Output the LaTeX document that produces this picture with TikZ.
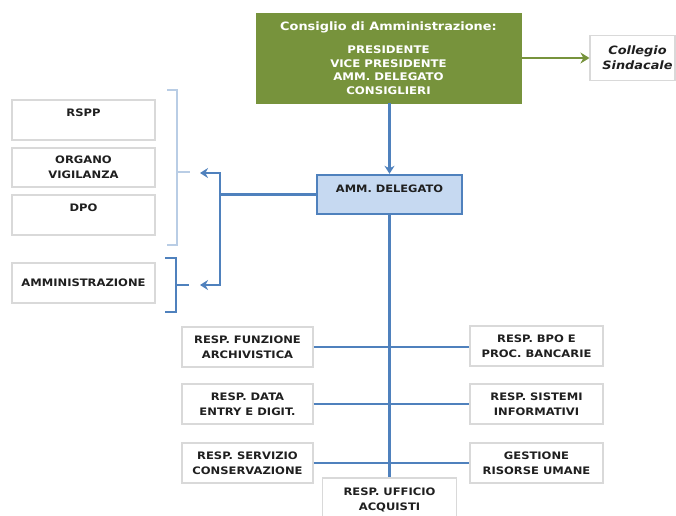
\documentclass[tikz,border=0pt]{standalone}
\usepackage{fontspec}
\setmainfont{DejaVu Sans}[FakeStretch=1.12]
\usetikzlibrary{arrows.meta}
\definecolor{cdagreen}{HTML}{77933C}
\definecolor{orgblue}{HTML}{4F81BD}
\definecolor{paleblue}{HTML}{C6D9F1}
\definecolor{bracketblue}{HTML}{B9CDE5}
\definecolor{boxgray}{HTML}{D9D9D9}
\definecolor{textdark}{HTML}{1F1F1F}
\begin{document}
\begin{tikzpicture}[x=1pt,y=-1pt,
  box/.style={draw=boxgray, line width=1.1pt, fill=white, align=center,
    text=textdark, inner sep=2pt,
    font=\bfseries\fontsize{10.3}{15}\selectfont},
  sidebox/.style={box, minimum width=143pt},
  unitbox/.style={box, minimum width=131pt, minimum height=40pt},
  boardbox/.style={draw=cdagreen, fill=cdagreen, text=white, align=center,
    minimum width=265pt, minimum height=90pt, inner sep=2pt,
    font=\bfseries\fontsize{10.5}{13.5}\selectfont},
  ceobox/.style={draw=orgblue, line width=2.4pt, fill=paleblue, align=center,
    text=textdark, minimum width=145pt, minimum height=39pt,
    font=\bfseries\fontsize{10.2}{15}\selectfont},
  blueline/.style={draw=orgblue, line width=2.4pt},
  bluetip/.style={-{Stealth[length=8pt,width=10pt]}},
  greenarrow/.style={draw=cdagreen, line width=2.4pt, -{Stealth[length=9pt,width=11pt]}},
  bracket/.style={line width=2pt}
]
\useasboundingbox (0,0) rectangle (676,515);
\clip (0,0) rectangle (676,515);

% board and statutory auditors
\node[boardbox] (cda) at (388.5,58)
  {{\fontsize{11.5}{13.5}\selectfont Consiglio di Amministrazione:}\\[10pt]
   PRESIDENTE\\VICE PRESIDENTE\\AMM. DELEGATO\\CONSIGLIERI};
\node[box, minimum width=85pt, minimum height=45pt,
      font=\bfseries\itshape\fontsize{11.5}{15}\selectfont] (coll) at (632.5,58)
  {\hspace*{10pt}Collegio\\\hspace*{10pt}Sindacale};

% managing director
\node[ceobox] (amm) at (389.5,194.5) {AMM. DELEGATO\\[-3pt]};

% staff functions
\node[sidebox, minimum height=40pt] (rspp) at (83.5,120) {RSPP\\\phantom{X}};
\node[sidebox, minimum height=39pt] (odv) at (83.5,167.5) {ORGANO\\VIGILANZA};
\node[sidebox, minimum height=40pt] (dpo) at (83.5,215) {DPO\\\phantom{X}};
\node[sidebox, minimum height=40pt] (amministr) at (83.5,283) {AMMINISTRAZIONE};

% operational units
\node[unitbox] (arch) at (247.5,347) {RESP. FUNZIONE\\ARCHIVISTICA};
\node[unitbox] (data) at (247.5,404) {RESP. DATA\\ENTRY E DIGIT.};
\node[unitbox] (cons) at (247.5,463) {RESP. SERVIZIO\\CONSERVAZIONE};
\node[unitbox, minimum width=133pt] (bpo) at (536.5,346) {RESP. BPO E\\PROC. BANCARIE};
\node[unitbox, minimum width=133pt] (sist) at (536.5,404) {RESP. SISTEMI\\INFORMATIVI};
\node[unitbox, minimum width=133pt] (hr) at (536.5,463) {GESTIONE\\RISORSE UMANE};
\node[box, minimum width=134pt, minimum height=44pt] (acq) at (389.5,500)
  {RESP. UFFICIO\\ACQUISTI};

% brackets grouping the staff functions
\draw[bracket, bracketblue] (167,90) -- (177,90) -- (177,245) -- (167,245);
\draw[bracket, bracketblue] (177,172) -- (190,172);
\draw[bracket, orgblue] (165,258) -- (176,258) -- (176,312) -- (165,312);
\draw[bracket, orgblue] (176,285) -- (189,285);

% connectors
\draw[greenarrow] (cda.east |- coll.west) -- (coll.west);
\draw[blueline, bluetip] (cda.south -| amm.north) -- (amm.north);
\draw[blueline] (amm.south) -- (acq.north);

\coordinate (jtop) at (220,173);
\coordinate (jbot) at (220,285);
\coordinate (tipa) at (200,173);
\coordinate (tipb) at (200,285);
\draw[blueline] (amm.west) -- (amm.west -| jtop);
\draw[blueline, {Stealth[length=8pt,width=10pt]}-{Stealth[length=8pt,width=10pt]}]
  (tipa) -- (jtop) -- (jbot) -- (tipb);

\draw[blueline] (arch.east) -- (bpo.west |- arch.east);
\draw[blueline] (data.east) -- (sist.west);
\draw[blueline] (cons.east) -- (hr.west);
\end{tikzpicture}
\end{document}
